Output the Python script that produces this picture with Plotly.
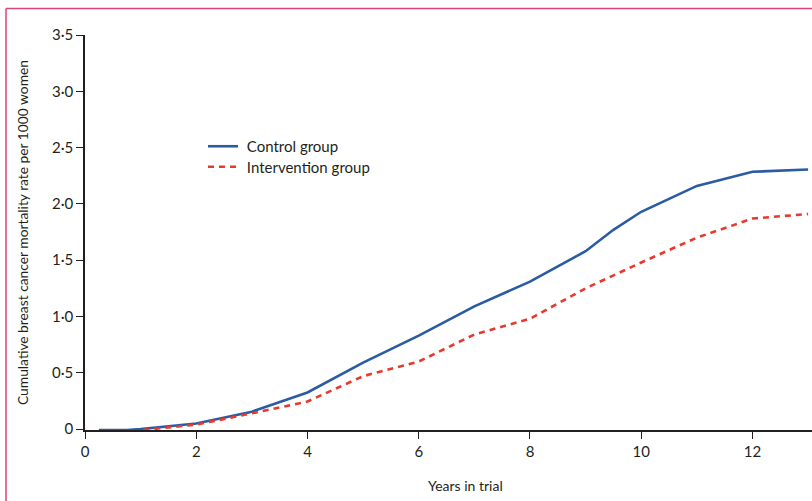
import plotly.graph_objects as go

# Data
control_years = [0.25, 0.75, 1.0, 1.5, 2.0, 3.0, 4.0, 5.0, 6.0, 7.0, 8.0, 9.0, 9.5, 10.0, 11.0, 12.0, 13.0]
control_rate = [-0.008, -0.008, 0.0, 0.025, 0.05, 0.155, 0.325, 0.59, 0.83, 1.09, 1.31, 1.58, 1.77, 1.93, 2.16, 2.285, 2.305]

interv_years = [1.05, 1.5, 2.0, 3.0, 4.0, 5.0, 6.0, 7.0, 8.0, 9.0, 10.0, 11.0, 12.0, 13.0]
interv_rate = [-0.008, 0.015, 0.04, 0.14, 0.245, 0.47, 0.6, 0.84, 0.98, 1.25, 1.48, 1.70, 1.87, 1.91]

y_tickvals = [0, 0.5, 1.0, 1.5, 2.0, 2.5, 3.0, 3.5]
y_ticktext = ["0", "0·5", "1·0", "1·5", "2·0", "2·5", "3·0", "3·5"]
x_tickvals = [0, 2, 4, 6, 8, 10, 12]

FONT = "Lato"
INK = "#231f20"

fig = go.Figure()
fig.add_trace(go.Scatter(
    x=control_years, y=control_rate, mode="lines", name="\u00a0Control group",
    line=dict(color="#2b5ba3", width=2.6), legend="legend",
))
fig.add_trace(go.Scatter(
    x=interv_years, y=interv_rate, mode="lines", name="\u00a0Intervention group",
    line=dict(color="#e63a2e", width=2.6, dash="6px,5px"), legend="legend2",
))

leg_common = dict(xanchor="left", yanchor="top", bgcolor="rgba(0,0,0,0)",
                  font=dict(family=FONT, size=15, color=INK), itemwidth=30)

fig.update_layout(
    width=812, height=501,
    margin=dict(l=85, r=0, t=35, b=71),
    paper_bgcolor="white", plot_bgcolor="white",
    font=dict(family=FONT, size=15, color=INK),
    showlegend=True,
    legend=dict(x=(203 - 85) / 727, y=(430 - 130) / 395, **leg_common),
    legend2=dict(x=(203 - 85) / 727, y=(430 - 150.5) / 395, **leg_common),
    xaxis=dict(range=[0, 13.07], tickvals=x_tickvals, showgrid=False, zeroline=False,
               showline=True, linecolor=INK, linewidth=1.5,
               ticks="outside", ticklen=7, tickwidth=1.3, tickcolor=INK,
               tickfont=dict(family=FONT, size=15, color=INK)),
    yaxis=dict(range=[-0.008, 3.5], tickvals=y_tickvals, ticktext=y_ticktext,
               showgrid=False, zeroline=False,
               showline=True, linecolor=INK, linewidth=1.5,
               ticks="outside", ticklen=7, tickwidth=1.3, tickcolor=INK,
               tickfont=dict(family=FONT, size=15, color=INK),
               title=dict(text="Cumulative breast cancer mortality rate per 1000 women",
                          font=dict(family=FONT, size=13.8, color=INK), standoff=20)),
    annotations=[dict(text="Years in trial", xref="paper", yref="paper",
                      x=(465 - 85) / 727, y=-(485 - 430) / 395, xanchor="center", yanchor="middle",
                      showarrow=False, font=dict(family=FONT, size=14, color=INK))],
    shapes=[
        dict(type="line", xref="paper", yref="paper",
             x0=(6 - 85) / 727, x1=(6 - 85) / 727, y0=-0.3, y1=(430 - 8.5) / 395,
             line=dict(color="#d9437a", width=1.5), layer="below"),
        dict(type="line", xref="paper", yref="paper",
             x0=(6 - 85) / 727, x1=1.2, y0=(430 - 8.5) / 395, y1=(430 - 8.5) / 395,
             line=dict(color="#d9437a", width=1.5), layer="below"),
    ],
)

fig.write_html("out.html", config={"displayModeBar": False},
               post_script="document.body.style.margin='0';document.body.style.overflow='hidden';")
